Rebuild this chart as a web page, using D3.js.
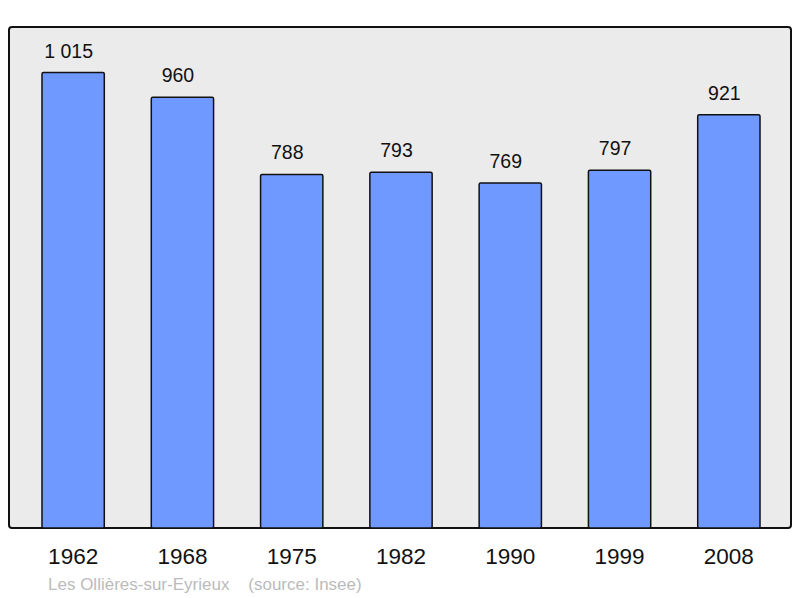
<!DOCTYPE html>
<html>
<head>
<meta charset="utf-8">
<script src="https://cdn.jsdelivr.net/npm/d3@7"></script>
<style>
  body { margin: 0; background: #fff; }
  svg { display: block; font-family: "Liberation Sans", Arial, sans-serif; }
</style>
</head>
<body>
<svg id="chart" width="800" height="598"></svg>
<script>
const years = ["1962", "1968", "1975", "1982", "1990", "1999", "2008"];
const population = [1015, 960, 788, 793, 769, 797, 921];
const valueLabels = ["1 015", "960", "788", "793", "769", "797", "921"];
const caption = "Les Ollières-sur-Eyrieux    (source: Insee)";

const svg = d3.select('#chart');
const frame = { left: 9, top: 27, right: 791, bottom: 528 };

svg.append('rect')
    .attr('x', frame.left)
    .attr('y', frame.top)
    .attr('width', frame.right - frame.left)
    .attr('height', frame.bottom - frame.top)
    .attr('rx', 3)
    .style('fill', '#ebebeb')
    .style('stroke', '#111')
    .style('stroke-width', 2);

const xScale = d3.scaleBand()
    .domain(years)
    .range([18.5, 783.5])
    .paddingInner(0.43)
    .paddingOuter(0.215);

const yScale = d3.scaleLinear()
    .domain([0, 1015 * 1.1])
    .range([frame.bottom, frame.top]);

const data = years.map((y, i) => ({ year: y, value: population[i], label: valueLabels[i] }));

svg.selectAll('rect.bar')
    .data(data)
    .enter()
    .append('rect')
    .attr('class', 'bar')
    .attr('x', d => xScale(d.year))
    .attr('y', d => yScale(d.value))
    .attr('width', xScale.bandwidth())
    .attr('height', d => frame.bottom - yScale(d.value))
    .attr('rx', 1.5)
    .style('fill', '#7099ff')
    .style('stroke', '#111')
    .style('stroke-width', 1.5);

// value labels sit a little left of the bar centre, as in the original
svg.selectAll('text.val')
    .data(data)
    .enter()
    .append('text')
    .attr('class', 'val')
    .attr('x', d => xScale(d.year) + xScale.bandwidth() / 2 - 4.5)
    .attr('y', d => yScale(d.value) - 15)
    .style('text-anchor', 'middle')
    .style('font-size', '19.5px')
    .style('fill', '#111')
    .text(d => d.label);

// year axis, drawn as plain labels
const xAxis = svg.append('g')
    .attr('transform', `translate(0,${frame.bottom})`)
    .call(d3.axisBottom(xScale).tickSize(0).tickPadding(0));
xAxis.select('.domain').remove();
xAxis.selectAll('text')
    .attr('dy', null)
    .attr('y', 36)
    .style('font-size', '22.5px')
    .style('font-family', '"Liberation Sans", Arial, sans-serif')
    .style('fill', '#111');

svg.append('text')
    .attr('x', 48)
    .attr('y', 590)
    .style('font-size', '17px')
    .style('fill', '#bbb')
    .style('white-space', 'pre')
    .text(caption);
</script>
</body>
</html>
